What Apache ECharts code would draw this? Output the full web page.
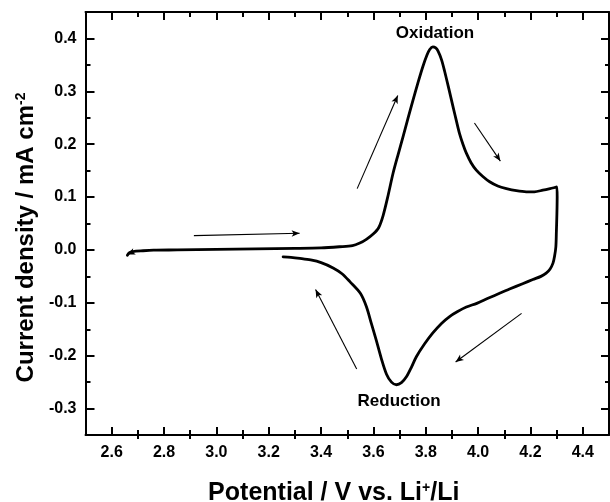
<!DOCTYPE html>
<html>
<head>
<meta charset="utf-8">
<script src="https://cdn.jsdelivr.net/npm/echarts@6/dist/echarts.min.js"></script>
<style>
  html, body { margin: 0; padding: 0; background: #fff; }
  #chart { width: 610px; height: 502px; }
</style>
</head>
<body>
<div id="chart"></div>
<script>
// Cyclic voltammogram: potential (V vs. Li+/Li) and current density (mA cm^-2),
// traced anodic sweep first, then the cathodic return sweep.
const potential = [
  2.660, 2.668, 2.680, 2.720, 2.760, 2.850, 3.000, 3.150, 3.300, 3.400,
  3.470, 3.520, 3.548, 3.573, 3.599, 3.620, 3.637, 3.656, 3.675, 3.694,
  3.713, 3.732, 3.751, 3.770, 3.789, 3.805, 3.815, 3.827, 3.838, 3.847,
  3.860, 3.872, 3.888, 3.904, 3.917, 3.929, 3.942, 3.955, 3.973, 3.993,
  4.018, 4.044, 4.075, 4.108, 4.146, 4.184, 4.215, 4.247, 4.275, 4.301,
  4.302, 4.301, 4.299, 4.297, 4.292, 4.286, 4.275, 4.260, 4.240, 4.209,
  4.170, 4.120, 4.082, 4.040, 3.995, 3.955, 3.920, 3.891, 3.860, 3.827,
  3.795, 3.764, 3.745, 3.726, 3.707, 3.688, 3.669, 3.650, 3.630, 3.611,
  3.592, 3.573, 3.550, 3.510, 3.480, 3.446, 3.400, 3.360, 3.319, 3.285,
  3.255
];
const currentDensity = [
  -0.010, -0.005, -0.003, -0.0015, -0.0005, 0.000, 0.001, 0.002, 0.003, 0.004,
  0.006, 0.008, 0.013, 0.020, 0.030, 0.042, 0.065, 0.103, 0.145, 0.180,
  0.214, 0.249, 0.283, 0.316, 0.347, 0.369, 0.379, 0.384, 0.382, 0.376,
  0.360, 0.338, 0.305, 0.271, 0.244, 0.220, 0.200, 0.183, 0.165, 0.151,
  0.139, 0.129, 0.121, 0.116, 0.112, 0.110, 0.110, 0.113, 0.116, 0.119,
  0.100, 0.069, 0.035, 0.006, -0.012, -0.025, -0.036, -0.044, -0.050, -0.056,
  -0.064, -0.074, -0.082, -0.091, -0.101, -0.108, -0.117, -0.126, -0.139, -0.157,
  -0.178, -0.202, -0.222, -0.240, -0.251, -0.255, -0.250, -0.235, -0.205, -0.171,
  -0.139, -0.107, -0.082, -0.060, -0.045, -0.034, -0.024, -0.019, -0.016, -0.014,
  -0.013
];

// Sweep-direction arrows: [startPotential, startCurrent, endPotential, endCurrent]
const sweepArrows = [
  [2.914, 0.0271, 3.318, 0.0315],
  [3.538, 0.116, 3.693, 0.292],
  [3.986, 0.240, 4.085, 0.168],
  [4.166, -0.120, 3.914, -0.212],
  [3.536, -0.225, 3.379, -0.075],
  [2.690, -0.0020, 2.659, -0.0085]
];

// Peak annotations: [potential, current, text]
const peakNotes = [
  [3.837, 0.408, 'Oxidation'],
  [3.700, -0.288, 'Reduction']
];

// Axis ticks
const xRange = [2.5, 4.5];
const yRange = [-0.35, 0.45];
const xMajor = [2.6, 2.8, 3.0, 3.2, 3.4, 3.6, 3.8, 4.0, 4.2, 4.4];
const xMinor = [2.7, 2.9, 3.1, 3.3, 3.5, 3.7, 3.9, 4.1, 4.3];
const yMajor = [-0.3, -0.2, -0.1, 0.0, 0.1, 0.2, 0.3, 0.4];
const yMinor = [-0.25, -0.15, -0.05, 0.05, 0.15, 0.25, 0.35];

const FONT = "'Liberation Sans', Arial, Helvetica, sans-serif";
const INK = '#000';

const hiddenLine = { show: false, onZero: false };
const frameLine = { show: true, onZero: false, lineStyle: { color: INK, width: 2 } };

function tickStyle(values, inside, length) {
  return { show: true, inside: inside, length: length, customValues: values,
           lineStyle: { color: INK, width: 2 } };
}

function xAxisDef(position, ticks, opts) {
  return Object.assign({
    type: 'value', position: position, min: xRange[0], max: xRange[1],
    axisLine: hiddenLine,
    axisTick: tickStyle(ticks, true, 8),
    axisLabel: { show: false },
    splitLine: { show: false }
  }, opts || {});
}
function yAxisDef(position, ticks, opts) {
  return Object.assign({
    type: 'value', position: position, min: yRange[0], max: yRange[1],
    axisLine: hiddenLine,
    axisTick: tickStyle(ticks, true, 9),
    axisLabel: { show: false },
    splitLine: { show: false }
  }, opts || {});
}

const supStyle = { fontFamily: FONT, fontWeight: 'bold', fontSize: 14,
                   color: INK, verticalAlign: 'top', lineHeight: 14 };

const option = {
  animation: false,
  backgroundColor: '#fff',
  grid: { left: 85.5, right: 1, top: 12, bottom: 67, containLabel: false,
          outerBoundsMode: 'none' },
  xAxis: [
    xAxisDef('bottom', xMajor, {
      axisLine: frameLine,
      axisLabel: {
        show: true, customValues: xMajor, margin: 10,
        formatter: v => v.toFixed(1),
        color: INK, fontFamily: FONT, fontWeight: 'bold', fontSize: 16
      },
      name: 'Potential / V vs. Li{sup|+}/Li',
      nameLocation: 'middle',
      nameGap: 46,
      nameTextStyle: {
        color: INK, fontFamily: FONT, fontWeight: 'bold', fontSize: 25,
        padding: [0, 27, 0, 0],
        rich: { sup: supStyle }
      }
    }),
    xAxisDef('bottom', xMinor, { axisTick: tickStyle(xMinor, true, 5) }),
    xAxisDef('bottom', xMinor, { axisTick: tickStyle(xMinor, false, 4) }),
    xAxisDef('top', xMajor, { axisLine: frameLine }),
    xAxisDef('top', xMinor, { axisTick: tickStyle(xMinor, true, 5) })
  ],
  yAxis: [
    yAxisDef('left', yMajor, {
      axisLine: frameLine,
      axisLabel: {
        show: true, customValues: yMajor, margin: 9,
        formatter: v => v.toFixed(1),
        color: INK, fontFamily: FONT, fontWeight: 'bold', fontSize: 16
      },
      name: 'Current density / mA cm{sup|-2}',
      nameLocation: 'middle',
      nameRotate: 90,
      nameGap: 47,
      nameTextStyle: {
        color: INK, fontFamily: FONT, fontWeight: 'bold', fontSize: 24,
        padding: [0, 28, 0, 0],
        rich: { sup: supStyle }
      }
    }),
    yAxisDef('left', yMinor, { axisTick: tickStyle(yMinor, true, 5) }),
    yAxisDef('right', yMajor, { axisLine: frameLine, axisTick: tickStyle(yMajor, true, 8) }),
    yAxisDef('right', yMinor, { axisTick: tickStyle(yMinor, true, 4) })
  ],
  series: [
    {
      name: 'CV',
      type: 'line',
      xAxisIndex: 0,
      yAxisIndex: 0,
      data: potential.map((p, i) => [p, currentDensity[i]]),
      showSymbol: false,
      smooth: 0.3,
      lineStyle: { color: INK, width: 2.8, join: 'round', cap: 'round' },
      z: 3,
      markLine: {
        silent: true,
        symbol: ['none', 'arrow'],
        symbolSize: [5, 8],
        label: { show: false },
        lineStyle: { color: INK, width: 1.1, type: 'solid' },
        data: sweepArrows.map(a => [
          { coord: [a[0], a[1]] },
          { coord: [a[2], a[3]] }
        ])
      },
      markPoint: {
        silent: true,
        symbol: 'circle',
        symbolSize: 1,
        itemStyle: { color: 'rgba(255,255,255,0)' },
        label: {
          show: true,
          position: [0, 0],
          align: 'center',
          verticalAlign: 'middle',
          formatter: p => p.name,
          color: INK, opacity: 1, textBorderWidth: 0,
          fontFamily: FONT, fontWeight: 'bold', fontSize: 17
        },
        data: peakNotes.map(n => ({ coord: [n[0], n[1]], name: n[2] }))
      }
    }
  ]
};

const chart = echarts.init(document.getElementById('chart'), null, { renderer: 'canvas' });
chart.setOption(option);
</script>
</body>
</html>
